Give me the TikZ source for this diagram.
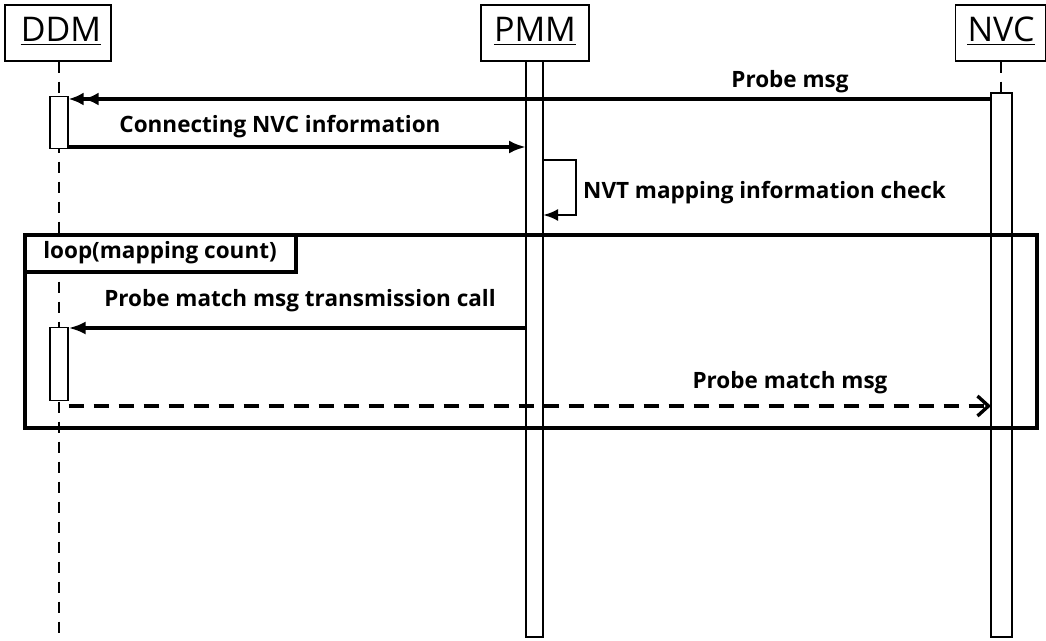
\documentclass[tikz,border=0pt]{standalone}
\usepackage{fontspec}
\setmainfont{Open Sans}
\usetikzlibrary{arrows.meta}
\begin{document}
\begin{tikzpicture}[x=1pt,y=-1pt,
  head/.style={draw, line width=1.3pt, minimum height=56pt, inner sep=0pt},
  ttl/.style={font=\fontsize{34}{36}\selectfont, inner sep=0pt},
  bar/.style={draw, line width=1.2pt, fill=white},
  msg/.style={line width=3.6pt, -{Latex[length=17pt,width=13pt]}},
  lbl/.style={font=\bfseries\fontsize{22.5}{25}\selectfont, inner sep=0pt},
  life/.style={line width=2.8pt, dash pattern=on 11pt off 9pt},
  frame/.style={draw, line width=3.6pt}]
\useasboundingbox (0,0) rectangle (1046,640);
% heads
\node[head, minimum width=106pt] (ddm) at (58,33) {};
\node[head, minimum width=108pt] (pmm) at (535,33) {};
\node[head, minimum width=90pt, anchor=west] (nvc) at (955,33) {};
\node[ttl] (tddm) at (61,29) {DDM};
\node[ttl] (tpmm) at (535,29) {PMM};
\node[ttl] (tnvc) at (1001,29) {NVC};
\draw[line width=1.3pt] ([yshift=-3pt]tddm.south west) -- ([yshift=-3pt]tddm.south east);
\draw[line width=1.3pt] ([yshift=-3pt]tpmm.south west) -- ([yshift=-3pt]tpmm.south east);
\draw[line width=1.3pt] ([yshift=-3pt]tnvc.south west) -- ([yshift=-3pt]tnvc.south east);
% lifelines
\coordinate (ddmend) at (59,640);
\draw[life] (ddm.south -| ddmend) -- (ddmend);
\coordinate (nvctop) at (1001,93);
\draw[life] (nvc.south -| nvctop) -- (nvctop);
% bars
\draw[bar] (526,61) rectangle (543,637);
\draw[bar] (991,93) rectangle (1012,637);
\node[bar, minimum width=18pt, minimum height=52pt, inner sep=0pt, anchor=north] (a1) at (59,96) {};
\node[bar, minimum width=18pt, minimum height=73pt, inner sep=0pt, anchor=north] (a2) at (59,327) {};
\coordinate (nvcl) at (991,99);
\coordinate (pmml) at (526,147);
% messages
\draw[line width=3.6pt, -{Latex[length=15pt,width=13pt]Latex[length=15pt,width=13pt]}] (nvcl) -- (a1.east |- nvcl);
\node[lbl] (l1) at (790,82) {Probe msg};
\draw[msg] (a1.east |- pmml) -- (pmml);
\node[lbl] (l2) at (280,127) {Connecting NVC information};
% self message
\coordinate (s1) at (543,160);
\coordinate (s2) at (576,160);
\coordinate (s3) at (576,215);
\coordinate (s4) at (543,215);
\draw[line width=2.8pt, -{Latex[length=15pt,width=12pt]}] (s1) -- (s2) -- (s3) -- (s4);
\node[lbl, anchor=west] (l3) at (583,193) {NVT mapping information check};
% loop frame
\draw[frame] (25,235) rectangle (1037,428);
\draw[frame, fill=white] (25,235) rectangle (296,272);
\node[lbl] (l4) at (160,253) {loop(mapping count)};
\coordinate (pm2) at (526,328);
\draw[msg] (pm2) -- (a2.east |- pm2);
\node[lbl] (l5) at (300,301) {Probe match msg transmission call};
\coordinate (nv2) at (991,406);
\draw[line width=3.6pt, dash pattern=on 15pt off 10pt, -{Straight Barb[length=11pt,width=20pt,line width=3.4pt]}] (a2.east |- nv2) -- (nv2);
\node[lbl] (l6) at (790,383) {Probe match msg};
\end{tikzpicture}
\end{document}
